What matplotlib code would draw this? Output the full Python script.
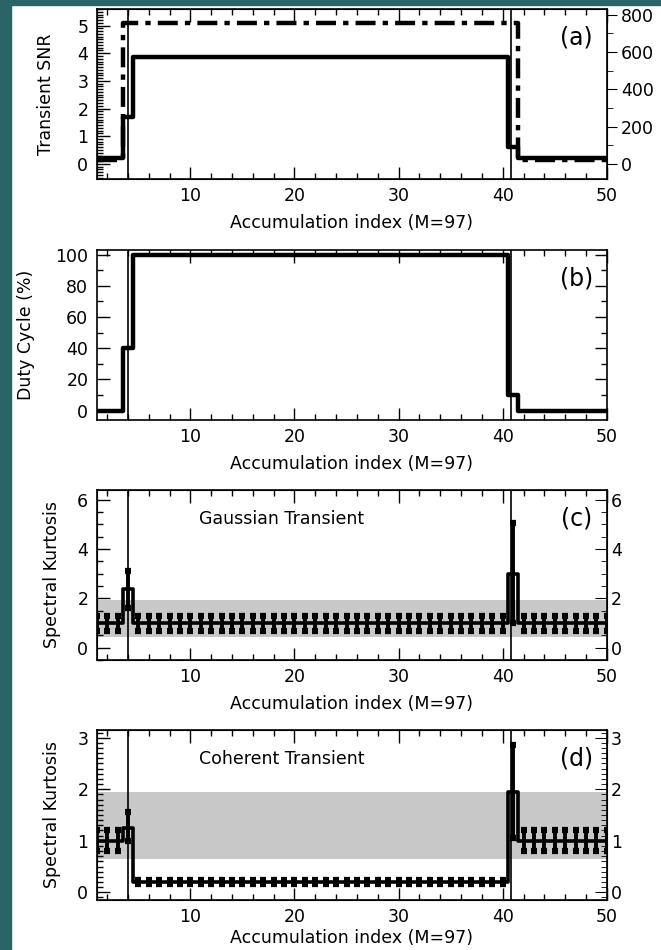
import numpy as np
import matplotlib
matplotlib.use("Agg")
import matplotlib.pyplot as plt
from matplotlib.ticker import MultipleLocator

# accumulation index (bins)
acc = np.arange(1, 51)

# (a) transient SNR and accumulated power
snr = [0.2] * 3 + [1.7] + [3.85] * 36 + [0.6] + [0.2] * 9
power = [20] * 3 + [755] * 38 + [20] * 9

# (b) duty cycle in %
duty = [0] * 3 + [40] + [100] * 36 + [10] + [0] * 9

# (c) SK, gaussian transient
sk_gauss = [1.0] * 3 + [2.4] + [1.0] * 36 + [3.0] + [1.0] * 9
gauss_lo = [0.68] * 3 + [1.6] + [0.68] * 36 + [1.0] + [0.68] * 9
gauss_hi = [1.3] * 3 + [3.1] + [1.3] * 36 + [5.05] + [1.3] * 9

# (d) SK, coherent transient
sk_coh = [1.0] * 3 + [1.25] + [0.2] * 36 + [1.95] + [1.0] * 9
coh_lo = [0.8] * 3 + [1.0] + [0.17] * 36 + [1.05] + [0.8] * 9
coh_hi = [1.2] * 3 + [1.55] + [0.23] * 36 + [2.85] + [1.2] * 9

# SK thresholds (gray band) and transient edges
band_c = (0.42, 1.95)
band_d = (0.65, 1.95)
edges = [4.0, 40.8]

FS = 12.5
TEAL = "#2b6467"
W, H = 661, 950

fig = plt.figure(figsize=(6.61, 9.5), dpi=100)
fig.patch.set_facecolor("white")
# teal slide border (left and top strips)
fig.add_artist(plt.Rectangle((0, 0), 11 / W, 1, transform=fig.transFigure,
                             color=TEAL, zorder=-5))
fig.add_artist(plt.Rectangle((0, 1 - 5 / H), 1, 5 / H, transform=fig.transFigure,
                             color=TEAL, zorder=-5))

left, right = 96.7 / W, 606.8 / W
tops = [9, 250, 490, 730]
ph = 170


def make_ax(top, xpad=6):
    ax = fig.add_axes([left, 1 - (top + ph) / H, right - left, ph / H])
    ax.set_xlim(1, 50)
    ax.xaxis.set_major_locator(MultipleLocator(10))
    ax.xaxis.set_minor_locator(MultipleLocator(2))
    ax.set_xticks([10, 20, 30, 40, 50])
    ax.tick_params(which="both", direction="in", top=True, labelsize=FS, pad=6, width=1)
    ax.tick_params(which="major", length=9)
    ax.tick_params(which="minor", length=4)
    ax.set_xlabel("Accumulation index (M=97)", fontsize=FS, labelpad=xpad)
    for s in ax.spines.values():
        s.set_linewidth(1.2)
    for e in edges:
        ax.axvline(e, color="black", lw=1.2, zorder=3)
    return ax


def panel_label(ax, txt):
    ax.text(0.94, 0.83, txt, transform=ax.transAxes, fontsize=17, ha="center", va="center")


# (a)
ax = make_ax(tops[0])
ax.step(acc, snr, where="mid", color="black", lw=3.2, zorder=4)
ax.set_ylim(-0.55, 5.6)
ax.yaxis.set_major_locator(MultipleLocator(1))
ax.yaxis.set_minor_locator(MultipleLocator(0.1))
ax.tick_params(axis="y", which="both", right=False)
ax.set_ylabel("Transient SNR", fontsize=FS, labelpad=16)
panel_label(ax, "(a)")
axr = ax.twinx()
axr.step(acc, power, where="mid", color="black", lw=3.2, linestyle=(0, (4.5, 1.6, 1.2, 1.6)), zorder=4)
axr.set_ylim(-80, 830)
axr.yaxis.set_major_locator(MultipleLocator(200))
axr.yaxis.set_minor_locator(MultipleLocator(100))
axr.tick_params(which="both", direction="out", labelsize=FS, pad=3)
axr.tick_params(which="major", length=7)
axr.tick_params(which="minor", length=4)
axr.set_ylabel("Accumulated Power", fontsize=FS, labelpad=8)

# (b)
ax = make_ax(tops[1])
ax.step(acc, duty, where="mid", color="black", lw=3.2, zorder=4)
ax.set_ylim(-6, 103)
ax.yaxis.set_major_locator(MultipleLocator(20))
ax.yaxis.set_minor_locator(MultipleLocator(10))
ax.tick_params(axis="y", which="both", right=True)
ax.set_ylabel("Duty Cycle (%)", fontsize=FS, labelpad=15)
panel_label(ax, "(b)")


def sk_panel(top, vals, lo, hi, band, ylim, major, minor, title, tag, xpad=6):
    ax = make_ax(top, xpad)
    ax.axhspan(band[0], band[1], color="#c8c8c8", lw=0, zorder=1)
    ax.step(acc, vals, where="mid", color="black", lw=2.6, zorder=4)
    v = np.array(vals)
    err = [v - np.array(lo), np.array(hi) - v]
    ax.errorbar(acc, vals, yerr=err, fmt="none", ecolor="black", elinewidth=2.8,
                capsize=2.5, capthick=4.5, zorder=5)
    ax.set_ylim(*ylim)
    ax.yaxis.set_major_locator(MultipleLocator(major))
    ax.yaxis.set_minor_locator(MultipleLocator(minor))
    ax.tick_params(axis="y", which="both", right=False)
    ax.set_ylabel("Spectral Kurtosis", fontsize=FS, labelpad=12)
    ax.text(0.2, 0.83, title, transform=ax.transAxes, fontsize=FS, ha="left", va="center")
    panel_label(ax, tag)
    axr = ax.twinx()
    axr.set_ylim(*ylim)
    axr.yaxis.set_major_locator(MultipleLocator(major))
    axr.yaxis.set_minor_locator(MultipleLocator(minor))
    axr.tick_params(which="both", direction="in", labelsize=FS, pad=3)
    axr.tick_params(which="major", length=9)
    axr.tick_params(which="minor", length=4)
    return ax


sk_panel(tops[2], sk_gauss, gauss_lo, gauss_hi, band_c, (-0.5, 6.4), 2, 0.5,
         "Gaussian Transient", "(c)")
sk_panel(tops[3], sk_coh, coh_lo, coh_hi, band_d, (-0.15, 3.15), 1, 0.1,
         "Coherent Transient", "(d)", xpad=2)

fig.savefig("out.png", dpi=100)
